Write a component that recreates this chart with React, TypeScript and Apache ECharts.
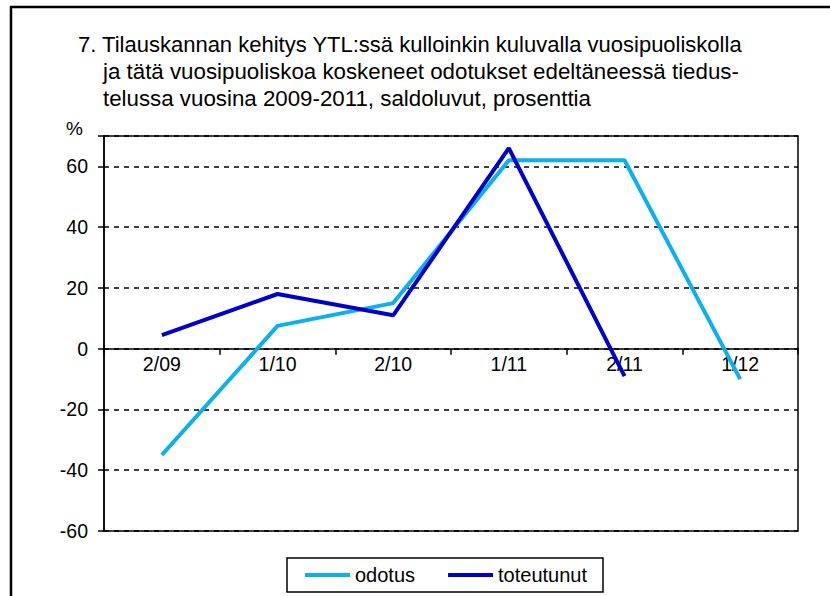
import React, { useEffect, useRef } from "react";
import * as echarts from "echarts";

const categories = ["2/09", "1/10", "2/10", "1/11", "2/11", "1/12"];
const odotus = [-35, 7.5, 15, 62, 62, -10];
const toteutunut = [4.5, 18, 11, 66, -9, null];
const yMin = -60;
const yMax = 70;
const yInterval = 20;
const titleLine1 = "7. Tilauskannan kehitys YTL:ssä kulloinkin kuluvalla vuosipuoliskolla";
const titleLine2 = "ja tätä vuosipuoliskoa koskeneet odotukset edeltäneessä tiedus-";
const titleLine3 = "telussa vuosina 2009-2011, saldoluvut, prosenttia";

const FONT = "'Liberation Sans', Arial, Helvetica, sans-serif";
const GRID_H = 395;

export default function App() {
  const ref = useRef<HTMLDivElement>(null);
  useEffect(() => {
    if (!ref.current) return;
    const chart = echarts.init(ref.current, null, { renderer: "svg" });
    const zeroOffset = -GRID_H * (0 - yMin) / (yMax - yMin);
    chart.setOption({
      animation: false,
      backgroundColor: "#fff",
      textStyle: { fontFamily: FONT },
      title: [
        {
          text: titleLine1,
          left: 78,
          top: 31,
          padding: 0,
          textStyle: { fontFamily: FONT, fontSize: 22, fontWeight: "normal", color: "#000", lineHeight: 27 },
        },
        {
          text: titleLine2 + "\n" + titleLine3,
          left: 103,
          top: 58,
          padding: 0,
          textStyle: { fontFamily: FONT, fontSize: 22.3, fontWeight: "normal", color: "#000", lineHeight: 27 },
        },
      ],
      graphic: [
        { type: "line", shape: { x1: 10, y1: 7, x2: 830, y2: 7 }, style: { stroke: "#000", lineWidth: 2.5 } },
        { type: "line", shape: { x1: 11, y1: 6, x2: 11, y2: 596 }, style: { stroke: "#000", lineWidth: 2.5 } },
        {
          type: "text",
          left: 66,
          top: 119,
          style: { text: "%", fontFamily: FONT, fontSize: 19, fill: "#000" },
        },
      ],
      legend: {
        left: 287,
        top: 558,
        padding: [7, 16, 7, 18],
        itemGap: 33,
        itemWidth: 45,
        itemHeight: 4,
        icon: "rect",
        borderColor: "#000",
        borderWidth: 1.5,
        textStyle: { fontFamily: FONT, fontSize: 20, color: "#000" },
        data: ["odotus", "toteutunut"],
      },
      grid: {
        left: 104,
        top: 136,
        width: 694,
        height: GRID_H,
        containLabel: false,
        show: true,
        borderColor: "#000",
        borderWidth: 1.5,
      },
      xAxis: {
        type: "category",
        data: categories,
        boundaryGap: true,
        position: "bottom",
        offset: zeroOffset,
        axisLine: { onZero: false, lineStyle: { color: "#000", width: 1.5 } },
        axisTick: { show: true, length: 6, alignWithLabel: false, lineStyle: { color: "#000", width: 1.5 } },
        axisLabel: { color: "#000", fontSize: 19.5, fontFamily: FONT, margin: 5, interval: 0 },
        splitLine: { show: false },
      },
      yAxis: {
        type: "value",
        min: yMin,
        max: yMax,
        interval: yInterval,
        axisLine: { show: true, lineStyle: { color: "#000", width: 1.5 } },
        axisTick: { show: true, length: 6, lineStyle: { color: "#000", width: 1.5 } },
        axisLabel: {
          color: "#000",
          fontSize: 19.5,
          fontFamily: FONT,
          margin: 16,
          formatter: (v: number) => (v === yMax ? "" : String(v)),
        },
        splitLine: { show: true, lineStyle: { color: "#000", type: [5, 5], width: 1.5 } },
      },
      series: [
        {
          name: "odotus",
          type: "line",
          data: odotus,
          symbol: "none",
          color: "#0BB0EC",
          lineStyle: { width: 4, color: "#0BB0EC" },
          z: 3,
        },
        {
          name: "toteutunut",
          type: "line",
          data: toteutunut,
          symbol: "none",
          color: "#0000C8",
          lineStyle: { width: 4, color: "#0000C8" },
          z: 4,
        },
      ],
    });
    return () => chart.dispose();
  }, []);
  return <div ref={ref} style={{ width: 830, height: 596, position: "absolute", left: 0, top: 0 }} />;
}
